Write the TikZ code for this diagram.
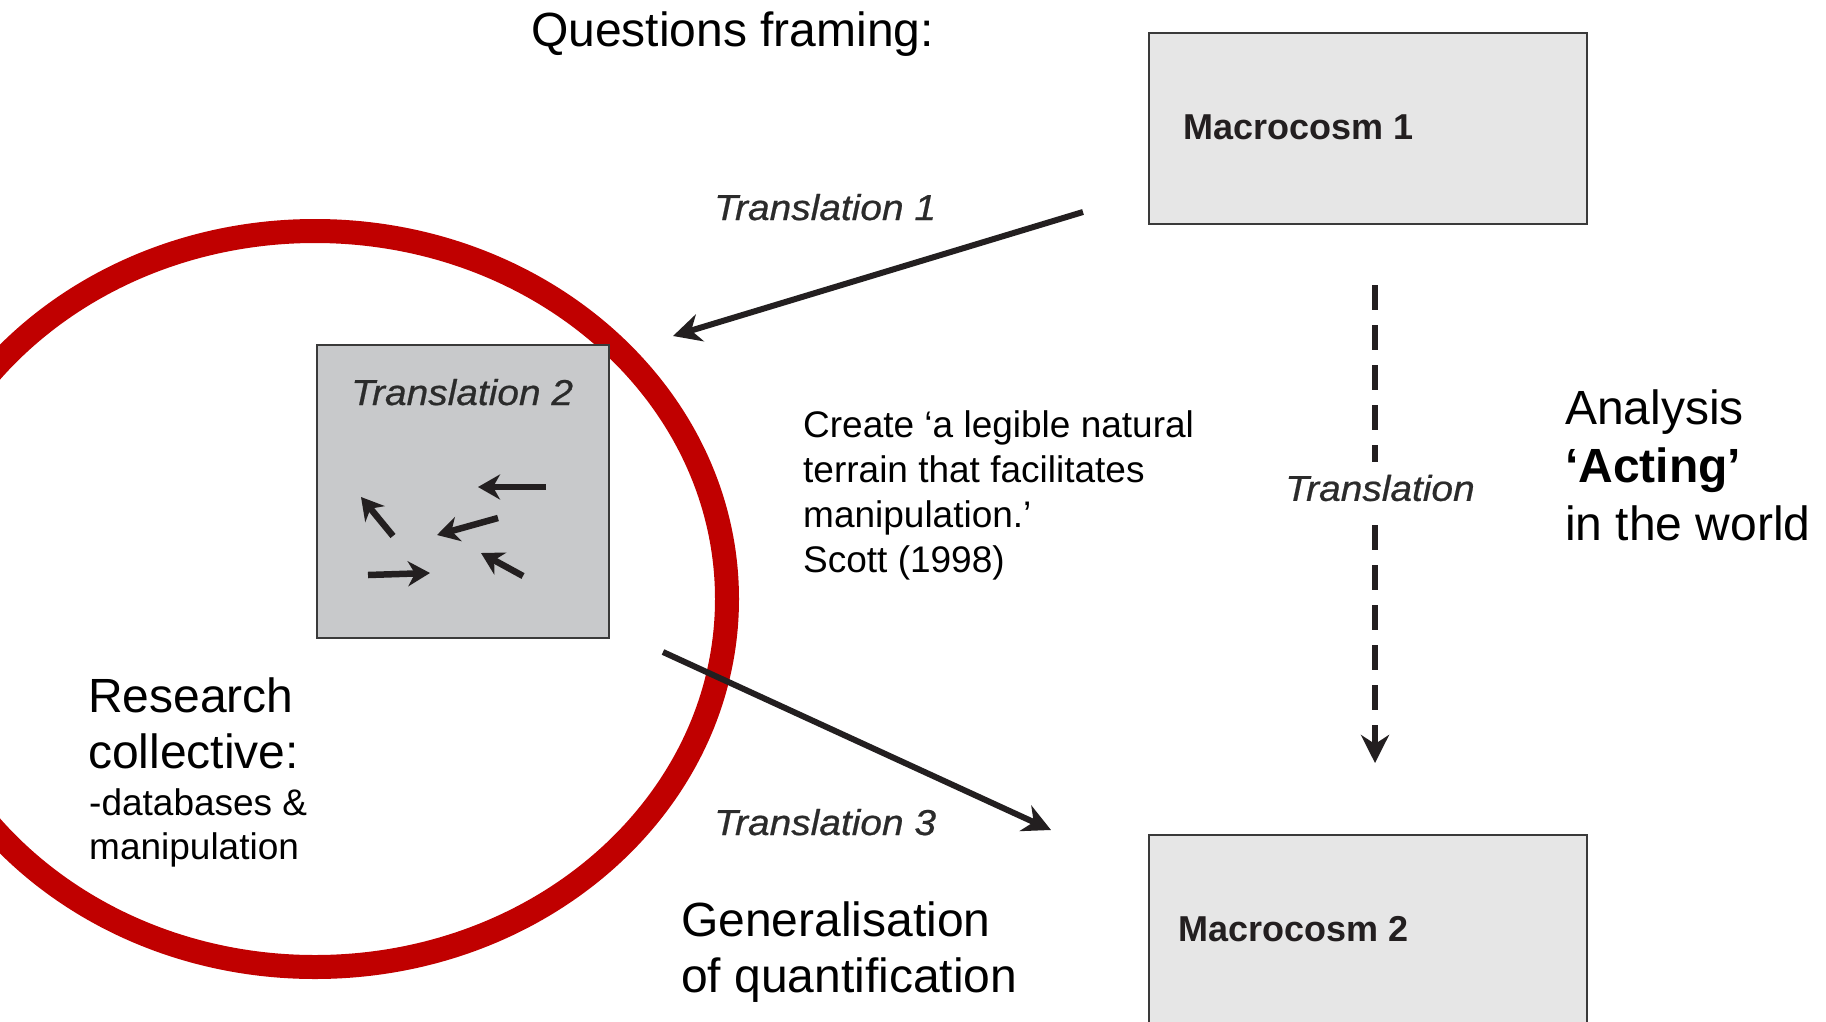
\documentclass[tikz,border=0pt]{standalone}
\usepackage{fontspec}
\setmainfont{Liberation Sans}
\newfontfamily\labfont{Liberation Sans}[FakeStretch=1.08,FakeBold=0.6]
\usetikzlibrary{arrows.meta}
\definecolor{ink}{HTML}{231F20}
\definecolor{redring}{HTML}{C00000}
\definecolor{macfill}{HTML}{E6E6E6}
\definecolor{tfill}{HTML}{C8C9CB}
\definecolor{boxline}{HTML}{3A3A3A}
\definecolor{labink}{HTML}{2B2B2B}
\begin{document}
\begin{tikzpicture}[x=1pt,y=-1pt,
  bigtext/.style={font=\fontsize{48}{56}\selectfont, inner sep=0pt, align=left, anchor=base west},
  analysistext/.style={font=\fontsize{48}{58}\selectfont, inner sep=0pt, align=left, anchor=base west},
  midtext/.style={font=\fontsize{37}{45}\selectfont, inner sep=0pt, align=left, anchor=base west},
  smalltext/.style={font=\fontsize{37}{44}\selectfont, inner sep=0pt, align=left, anchor=base west},
  labtext/.style={font=\labfont\itshape\fontsize{36}{40}\selectfont, text=labink, inner sep=0pt},
  mactext/.style={font=\bfseries\fontsize{36}{40}\selectfont, text=ink, inner sep=0pt, anchor=base west},
  macbox/.style={draw=boxline, line width=2pt, fill=macfill, inner sep=0pt},
  tbox/.style={draw=boxline, line width=2pt, fill=tfill, inner sep=0pt},
  bigarrow/.style={draw=ink, line width=6pt, -{Stealth[length=28pt,width=28pt,inset=9pt]}},
  smallarrow/.style={draw=ink, line width=6.5pt, -{Stealth[length=22pt,width=25pt,inset=7pt]}},
  dasharrow/.style={draw=ink, line width=6pt, dash pattern=on 25pt off 15pt, -{Stealth[length=28pt,width=28pt,inset=9pt]}},
  ring/.style={draw=redring, line width=24pt}
]
\useasboundingbox (0,0) rectangle (1826,1021);
\clip (0,0) rectangle (1826,1021);
\fill[white] (0,0) rectangle (1826,1021);

% red ring
\draw[ring] (315,599) ellipse [x radius=412pt, y radius=368pt];

% boxes
\node[macbox, minimum width=438pt, minimum height=191pt, anchor=north west] (mac1) at (1148,32) {};
\node[macbox, minimum width=438pt, minimum height=240pt, anchor=north west] (mac2) at (1148,834) {};
\node[tbox, minimum width=292pt, minimum height=293pt, anchor=north west] (tr2) at (316,344) {};

\node[mactext] (mac1t) at (1183,139) {Macrocosm 1};
\node[mactext] (mac2t) at (1178,941) {Macrocosm 2};
\node[labtext, anchor=base west] (tr2t) at (351,405) {Translation 2};

% small arrows in Translation 2
\coordinate (a1s) at (546,487); \coordinate (a1e) at (478,487);
\coordinate (a2s) at (498,518); \coordinate (a2e) at (437,535);
\coordinate (a3s) at (393,536); \coordinate (a3e) at (361,497);
\coordinate (a4s) at (368,575); \coordinate (a4e) at (430,573);
\coordinate (a5s) at (523,576); \coordinate (a5e) at (481,553);
\draw[smallarrow] (a1s) -- (a1e);
\draw[smallarrow] (a2s) -- (a2e);
\draw[smallarrow] (a3s) -- (a3e);
\draw[smallarrow] (a4s) -- (a4e);
\draw[smallarrow] (a5s) -- (a5e);

% Translation 1 and 3 arrows
\coordinate (t1s) at (1083,212); \coordinate (t1e) at (673,336);
\coordinate (t3s) at (663,652); \coordinate (t3e) at (1051,830);
\draw[bigarrow] (t1s) -- (t1e);
\draw[bigarrow] (t3s) -- (t3e);
\node[labtext, anchor=base west] (t1l) at (714,220) {Translation 1};
\node[labtext, anchor=base west] (t3l) at (714,835) {Translation 3};

% dashed translation arrow
\coordinate (ds) at (1375,285); \coordinate (de) at (1375,763);
\draw[dasharrow] (ds) -- (de);
\node[labtext, fill=white, inner xsep=2pt, inner ysep=13pt] (tl) at (1380,488) {Translation};

% texts (base anchor = last line's baseline)
\node[bigtext] (qf) at (531,46) {Questions framing:};
\node[analysistext] (an) at (1565,540) {Analysis\\\textbf{‘Acting’}\\in the world};
\node[midtext] (cr) at (803,572) {Create ‘a legible natural\\terrain that facilitates\\manipulation.’\\Scott (1998)};
\node[bigtext] (rc) at (88,768) {Research\\collective:};
\node[smalltext] (rcd) at (89,859) {-databases \&\\manipulation};
\node[bigtext] (gq) at (681,992) {Generalisation\\of quantification};
\end{tikzpicture}
\end{document}
